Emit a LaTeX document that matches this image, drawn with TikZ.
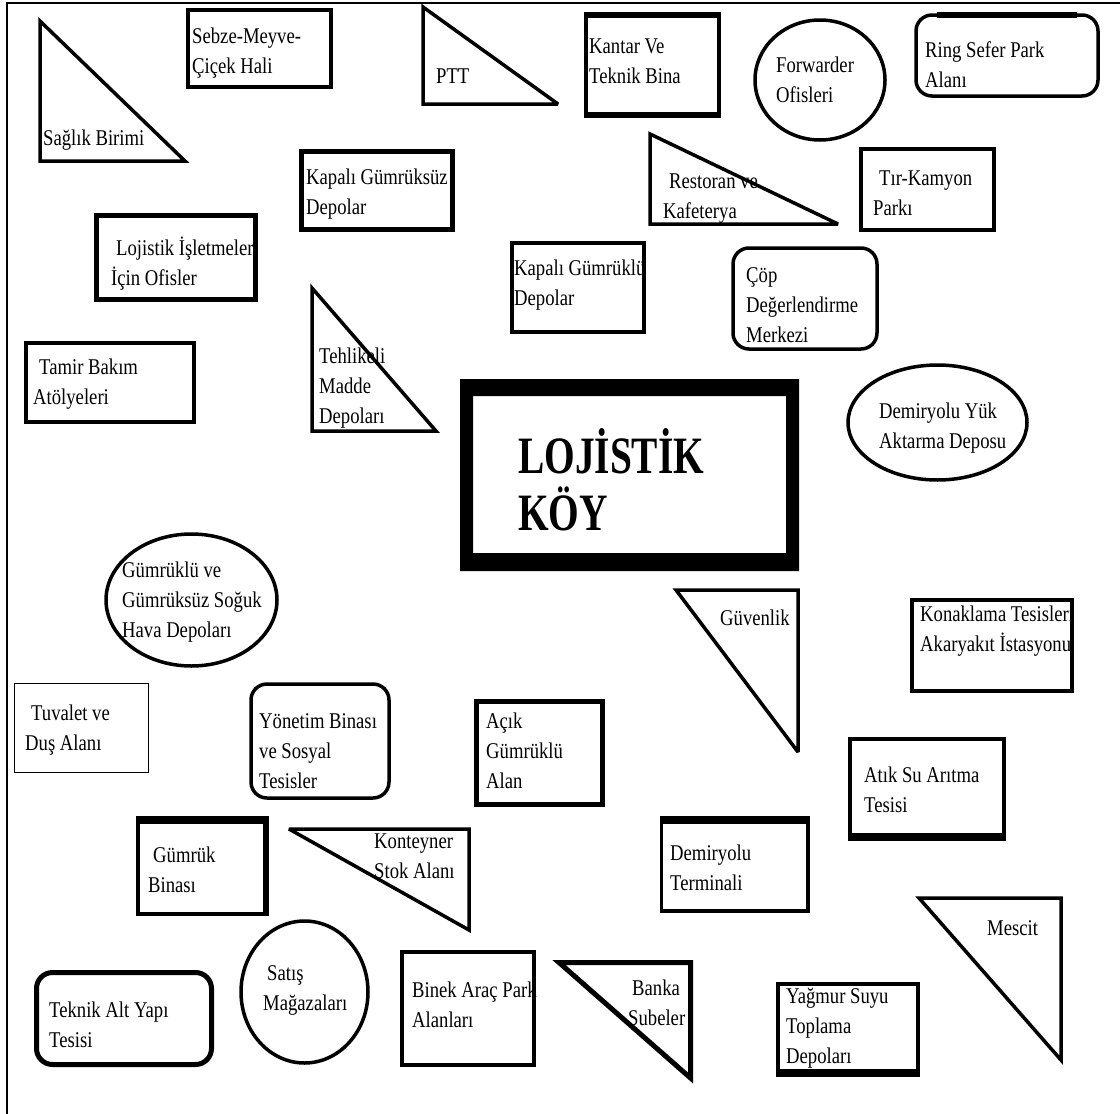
\documentclass[tikz,border=0pt]{standalone}
\usepackage{fontspec}
\setmainfont{Liberation Serif}[FakeStretch=0.83]
\newfontfamily\titlefont{Liberation Serif}[FakeStretch=0.75]
% fixed first-line height so that labels can be placed by their baseline
\newcommand\firstln{\rule{0pt}{20pt}}
\newcommand\titleln{\rule{0pt}{48pt}}

\begin{document}
\begin{tikzpicture}[x=1pt,y=-1pt,
  lbl/.style={anchor=north west, inner sep=0pt, align=left, yshift=20pt,
              font=\fontsize{22.5}{30}\selectfont},
  titletext/.style={anchor=north west, inner sep=0pt, align=left, yshift=48pt,
              font=\titlefont\bfseries\fontsize{52.5}{57}\selectfont},
  shp/.style={draw=black, line width=3.5pt, line join=miter, miter limit=3},
  heavy/.style={shp, line width=5pt},
  thin/.style={draw=black, line width=1.5pt},
  band/.style={fill=black},
  rnd/.style={rounded corners=16pt},
]
\useasboundingbox (0,0) rectangle (1120,1114);
\fill[white] (0,0) rectangle (1120,1114);

% page frame (top and left only)
\coordinate (frameTR) at (1120,3);
\coordinate (frameTL) at (7,3);
\coordinate (frameBL) at (7,1114);
\draw[thin] (frameTR) -- (frameTL) -- (frameBL);

% ---------- labels ----------
\node[lbl] (saglik)   at (43,145)  {\firstln Sağlık Birimi};
\node[lbl] (sebze)    at (192,43)  {\firstln Sebze-Meyve-\\Çiçek Hali};
\node[lbl] (ptt)      at (436,83)  {\firstln PTT};
\node[lbl] (kantar)   at (589,53)  {\firstln Kantar Ve\\Teknik Bina};
\node[lbl] (forward)  at (776,72)  {\firstln Forwarder\\Ofisleri};
\node[lbl] (ring)     at (925,57)  {\firstln Ring Sefer Park\\Alanı};
\node[lbl] (kgsuz)    at (306,184) {\firstln Kapalı Gümrüksüz\\Depolar};
\node[lbl] (restoran) at (663,188) {\firstln\hspace*{6pt}Restoran ve\\Kafeterya};
\node[lbl] (tir)      at (873,185) {\firstln\hspace*{6pt}Tır-Kamyon\\Parkı};
\node[lbl] (isletme)  at (111,255) {\firstln\hspace*{5pt}Lojistik İşletmeler\\İçin Ofisler};
\node[lbl] (kgklu)    at (514,275) {\firstln Kapalı Gümrüklü\\Depolar};
\node[lbl] (cop)      at (746,282) {\firstln Çöp\\Değerlendirme\\Merkezi};
\node[lbl] (tamir)    at (33,374)  {\firstln\hspace*{6pt}Tamir Bakım\\Atölyeleri};
\node[lbl] (tehlike)  at (319,363) {\firstln Tehlikeli\\Madde\\Depoları};
\node[titletext] (koy) at (518,473) {\titleln LOJİSTİK\\KÖY};
\node[lbl] (dyuk)     at (879,418) {\firstln Demiryolu Yük\\Aktarma Deposu};
\node[lbl] (soguk)    at (122,577) {\firstln Gümrüklü ve\\Gümrüksüz Soğuk\\Hava Depoları};
\node[lbl] (guvenlik) at (720,625) {\firstln Güvenlik};
\begin{scope}
  \clip (0,0) rectangle (1078,1114);
  \node[lbl] (konak)  at (920,621) {\firstln Konaklama Tesisleri\\Akaryakıt İstasyonu};
\end{scope}
\node[lbl] (tuvalet)  at (25,720)  {\firstln\hspace*{6pt}Tuvalet ve\\Duş Alanı};
\node[lbl] (yonetim)  at (259,728) {\firstln Yönetim Binası\\ve Sosyal\\Tesisler};
\node[lbl] (acik)     at (486,728) {\firstln Açık\\Gümrüklü\\Alan};
\node[lbl] (atik)     at (864,782) {\firstln Atık Su Arıtma\\Tesisi};
\node[lbl] (gumruk)   at (148,862) {\firstln\hspace*{5pt}Gümrük\\Binası};
\node[lbl] (konteyn)  at (374,848) {\firstln Konteyner\\Stok Alanı};
\node[lbl] (dterm)    at (670,860) {\firstln Demiryolu\\Terminali};
\node[lbl] (mescit)   at (987,935) {\firstln Mescit};
\node[lbl] (teknik)   at (49,1017) {\firstln Teknik Alt Yapı\\Tesisi};
\node[lbl] (satis)    at (263,980) {\firstln\hspace*{4pt}Satış\\Mağazaları};
\node[lbl] (binek)    at (412,997) {\firstln Binek Araç Park\\Alanları};
\node[lbl] (banka)    at (628,995) {\firstln\hspace*{4pt}Banka\\Şubeler};
\node[lbl] (yagmur)   at (786,1003) {\firstln Yağmur Suyu\\Toplama\\Depoları};

% ---------- shapes ----------
% Sağlık Birimi
\draw[shp] (40,21) -- (40,161) -- (185,161) -- cycle;
% Sebze-Meyve-Çiçek Hali
\draw[shp] (188,10) rectangle (331,87);
% PTT
\draw[shp] (423,7) -- (423,104) -- (558,104) -- cycle;
% Kantar ve Teknik Bina
\draw[shp] (586,14) rectangle (719,116);
\fill[band] (584,12) rectangle (721,18);
\fill[band] (584,112) rectangle (721,118);
% Forwarder Ofisleri
\draw[shp] (820,80) ellipse [x radius=65pt, y radius=60pt];
% Ring Sefer Park Alanı
\draw[shp,rnd] (916,15) rectangle (1098,96);
\fill[band] (937,12) rectangle (1077,18);
% Kapalı Gümrüksüz Depolar
\draw[heavy] (301.5,151.5) rectangle (452.5,229.5);
% Restoran ve Kafeterya
\draw[shp] (650,134) -- (650,224) -- (838,224) -- cycle;
% Tır-Kamyon Parkı
\draw[shp] (861,149) rectangle (994,230);
% Lojistik İşletmeler İçin Ofisler
\draw[heavy] (96.5,215.5) rectangle (255.5,299.5);
% Kapalı Gümrüklü Depolar
\draw[shp] (512,243) rectangle (644,332);
% Çöp Değerlendirme Merkezi
\draw[shp,rnd] (733,248) rectangle (877,349);
% Tamir Bakım Atölyeleri
\draw[shp] (26,343) rectangle (194,422);
% Tehlikeli Madde Depoları
\draw[shp] (312,288) -- (312,431) -- (436,431) -- cycle;
% central frame
\fill[even odd rule] (460,379) rectangle (799,571) (473,396) rectangle (786,553);
% Demiryolu Yük Aktarma Deposu
\draw[shp] (937.5,422.5) ellipse [x radius=89.5pt, y radius=57.5pt];
% Gümrüklü ve Gümrüksüz Soğuk Hava Depoları
\draw[shp] (191.5,600) ellipse [x radius=85.5pt, y radius=66pt];
% Güvenlik
\draw[shp] (676,590) -- (798,590) -- (798,752) -- cycle;
% Konaklama Tesisleri / Akaryakıt İstasyonu
\draw[shp] (912,600) rectangle (1072,691);
% Tuvalet ve Duş Alanı
\draw[thin] (14.5,683.5) rectangle (148.5,772.5);
% Yönetim Binası ve Sosyal Tesisler
\draw[shp,rnd] (251,684) rectangle (389,798);
% Açık Gümrüklü Alan
\draw[heavy] (476.5,701.5) rectangle (602.5,804.5);
% Atık Su Arıtma Tesisi
\draw[shp] (850,739) rectangle (1004,839);
\fill[band] (848,833) rectangle (1006,841);
% Gümrük Binası
\draw[shp] (138,818) rectangle (267,914);
\fill[band] (136,816) rectangle (269,824);
\fill[band] (263,816) rectangle (269,916);
% Konteyner Stok Alanı
\draw[shp] (289,829) -- (469,829) -- (469,930) -- cycle;
% Demiryolu Terminali
\draw[shp] (661.5,818) rectangle (808,911);
\fill[band] (659.5,816) rectangle (810,824);
% Mescit
\draw[shp] (919,898) -- (1061,898) -- (1061,1060) -- cycle;
% Teknik Alt Yapı Tesisi
\draw[heavy,rnd] (36.5,972.5) rectangle (211.5,1064.5);
% Satış Mağazaları
\draw[shp] (304.5,992) ellipse [x radius=63.5pt, y radius=71pt];
% Binek Araç Park Alanları
\draw[shp] (402,952) rectangle (534,1065);
% Banka Şubeler
\draw[heavy] (559,962.5) -- (690.5,962.5) -- (690.5,1078) -- cycle;
% Yağmur Suyu Toplama Depoları
\draw[shp] (778,984) rectangle (918,1075);
\fill[band] (776,1069) rectangle (920,1077);
\end{tikzpicture}
\end{document}
